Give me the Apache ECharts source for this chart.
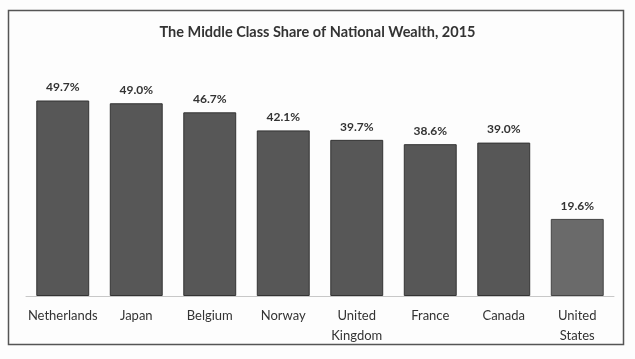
<!DOCTYPE html>
<html><head><meta charset="utf-8">
<script src="https://cdn.jsdelivr.net/npm/echarts@6/dist/echarts.min.js"></script>
<style>html,body{margin:0;padding:0;background:#fff}#c{width:635px;height:359px}</style>
</head><body><div id="c"></div>
<script>
var categories = ['Netherlands','Japan','Belgium','Norway','United\nKingdom','France','Canada','United\nStates'];
var values = [49.7, 49.0, 46.7, 42.1, 39.7, 38.6, 39.0, 19.6];
var labels = ['49.7%','49.0%','46.7%','42.1%','39.7%','38.6%','39.0%','19.6%'];
var titleText = 'The Middle Class Share of National Wealth, 2015';

var chart = echarts.init(document.getElementById('c'), null, {renderer:'canvas'});
var data = values.map(function(v,i){
  var us = i === values.length-1;
  return {value:v, itemStyle:{color: us ? '#6a6a6a' : '#575757', borderColor: us ? '#444' : '#333', borderWidth:1}};
});
chart.setOption({
  backgroundColor:'#fdfdfd',
  animation:false,
  title:{text:titleText, left:'center', top:20, textStyle:{fontFamily:'Lato', fontWeight:'bold', fontSize:14.5, color:'#333'}},
  graphic:[{type:'rect', shape:{x:8.5,y:10.5,width:615,height:334}, style:{fill:'none', stroke:'#555', lineWidth:1.5}, silent:true}],
  grid:{left:26, right:21, top:60, bottom:63},
  xAxis:{type:'category', data:categories,
    axisLine:{lineStyle:{color:'#c8c8c8', width:1}}, axisTick:{show:false},
    axisLabel:{fontFamily:'Lato', fontSize:13, color:'#333', margin:10, lineHeight:20, interval:0}},
  yAxis:{type:'value', min:0, max:60, show:false, splitLine:{show:false}},
  series:[{type:'bar', data:data, barCategoryGap:'28%',
    label:{show:true, position:'top', distance:7, fontFamily:'Lato', fontWeight:'bold', fontSize:12, color:'#333',
      formatter:function(p){return labels[p.dataIndex];}}}]
});
</script></body></html>
